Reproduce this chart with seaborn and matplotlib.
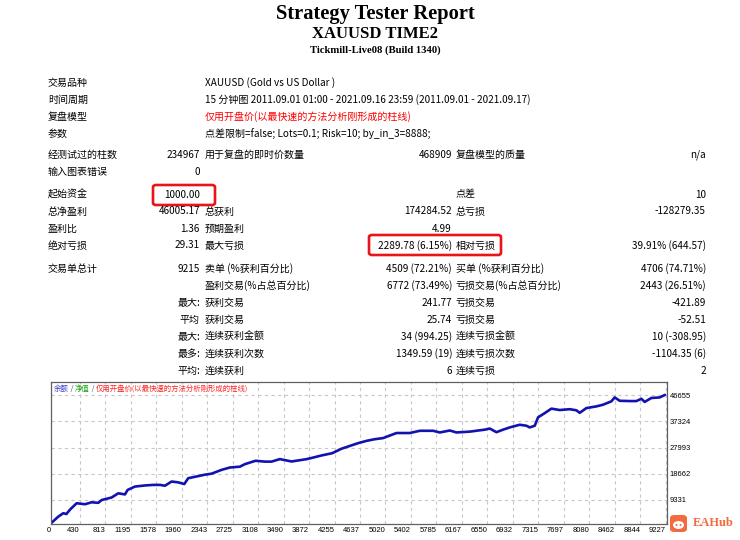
import numpy as np
import pandas as pd
import matplotlib
matplotlib.use("Agg")
import matplotlib.pyplot as plt
import matplotlib.patches as mpatches
import matplotlib.transforms as mtransforms
import seaborn as sns

# header text
title = "Strategy Tester Report"
subtitle = "XAUUSD TIME2"
server = "Tickmill-Live08 (Build 1340)"

# settings block (label, value)
settings_labels = ["交易品种", "时间周期", "复盘模型", "参数"]
settings_values = [
    "XAUUSD (Gold vs US Dollar )",
    "15 分钟图 2011.09.01 01:00 - 2021.09.16 23:59 (2011.09.01 - 2021.09.17)",
    "仅用开盘价(以最快速的方法分析刚形成的柱线)",
    "点差限制=false; Lots=0.1; Risk=10; by_in_3=8888;",
]

# six-column blocks: label, value, label, value, label, value
bars_block = [
    ["经测试过的柱数", "234967", "用于复盘的即时价数量", "468909", "复盘模型的质量", "n/a"],
    ["输入图表错误", "0", "", "", "", ""],
]
money_block = [
    ["起始资金", "1000.00", "", "", "点差", "10"],
    ["总净盈利", "46005.17", "总获利", "174284.52", "总亏损", "-128279.35"],
    ["盈利比", "1.36", "预期盈利", "4.99", "", ""],
    ["绝对亏损", "29.31", "最大亏损", "2289.78 (6.15%)", "相对亏损", "39.91% (644.57)"],
]
trades_block = [
    ["交易单总计", "9215", "卖单 (%获利百分比)", "4509 (72.21%)", "买单 (%获利百分比)", "4706 (74.71%)"],
    ["", "", "盈利交易(%占总百分比)", "6772 (73.49%)", "亏损交易(%占总百分比)", "2443 (26.51%)"],
    ["", "最大:", "获利交易", "241.77", "亏损交易", "-421.89"],
    ["", "平均", "获利交易", "25.74", "亏损交易", "-52.51"],
    ["", "最大:", "连续获利金额", "34 (994.25)", "连续亏损金额", "10 (-308.95)"],
    ["", "最多:", "连续获利次数", "1349.59 (19)", "连续亏损次数", "-1104.35 (6)"],
    ["", "平均:", "连续获利", "6", "连续亏损", "2"],
]

# balance curve (trade number, balance)
trade_no = [0, 110, 185, 230, 290, 385, 510, 610, 710, 760, 910, 1010, 1110, 1150,
            1260, 1410, 1535, 1635, 1710, 1810, 1910, 2000, 2060, 2185, 2300, 2410,
            2560, 2685, 2835, 2910, 3070, 3210, 3310, 3435, 3610, 3840, 3910, 4060,
            4220, 4360, 4510, 4610, 4735, 4860, 4985, 5185, 5385, 5535, 5735, 5835,
            5985, 6085, 6285, 6510, 6585, 6685, 6785, 6885, 7035, 7135, 7185, 7260,
            7310, 7410, 7510, 7635, 7785, 7885, 7935, 8035, 8185, 8285, 8410, 8460,
            8535, 8685, 8785, 8860, 8910, 9010, 9135, 9215]
balance = [1000, 3400, 4600, 4300, 6000, 8150, 7800, 8500, 8300, 9300, 10200, 11700,
           11300, 12900, 14100, 14500, 14700, 14700, 14400, 15900, 15600, 15000, 17100,
           17700, 18300, 18700, 20060, 20900, 21200, 22100, 23300, 23000, 23000, 23900,
           23050, 23900, 24300, 25200, 26000, 27600, 28800, 29600, 30400, 31000, 31400,
           33200, 33200, 34000, 34000, 33400, 34100, 33400, 33700, 34400, 34800, 33500,
           34400, 35200, 36150, 35800, 35200, 35800, 38800, 40300, 41900, 41400, 41700,
           41300, 40400, 42100, 42700, 43300, 44500, 45900, 44700, 44600, 44600, 45400,
           44300, 45700, 45900, 46800]

x_ticks = [0, 430, 813, 1195, 1578, 1960, 2343, 2725, 3108, 3490, 3872, 4255, 4637,
           5020, 5402, 5785, 6167, 6550, 6932, 7315, 7697, 8080, 8462, 8844, 9227]
y_ticks = [9331, 18662, 27993, 37324, 46655]
legend_parts = ["余额", " / ", "净值", " / ", "仅用开盘价(以最快速的方法分析刚形成的柱线)"]
legend_colors = ["#3c3cc8", "#555555", "#10a010", "#555555", "#ff2020"]

sns.set_theme(style="white")
plt.rcParams["font.family"] = ["Noto Sans CJK SC", "DejaVu Sans"]

W, H = 740, 540
fig = plt.figure(figsize=(W / 100, H / 100), dpi=100)
fig.patch.set_facecolor("white")


def put(x, y, s, ha="left", **kw):
    kw.setdefault("fontsize", 7.2)
    kw.setdefault("color", "black")
    fig.text(x / W, 1 - y / H, s, ha=ha, va="center", **kw)


# header
serif = ["Liberation Serif", "DejaVu Serif"]
put(375, 14, title, ha="center", fontsize=14.8, fontweight="bold", family=serif)
put(375, 34, subtitle, ha="center", fontsize=12, fontweight="bold", family=serif)
put(375, 50.5, server, ha="center", fontsize=7.7, fontweight="bold", family=serif)

# table
col_left = [48, 205, 456]
col_right = [200, 452, 706]
row_h = 17

for i, (lab, val) in enumerate(zip(settings_labels, settings_values)):
    y = 82.7 + i * row_h
    put(col_left[0], y, lab)
    put(col_left[1], y, val, color="#ff0000" if i == 2 else "black")


def draw_block(rows, y0):
    for i, row in enumerate(rows):
        y = y0 + i * row_h
        for c in range(3):
            lab, val = row[2 * c], row[2 * c + 1]
            if lab:
                put(col_left[c], y, lab)
            if val:
                put(col_right[c], y, val, ha="right")


draw_block(bars_block, 155)
draw_block(money_block, 194.5)
draw_block(trades_block, 269)

# red highlight boxes
for (x0, y0, x1, y1) in [(153, 185, 215, 205), (369, 235, 501, 255)]:
    fig.add_artist(mpatches.FancyBboxPatch(
        (x0 / W, 1 - y1 / H), (x1 - x0) / W, (y1 - y0) / H,
        boxstyle="round,pad=0,rounding_size=0.004", transform=fig.transFigure,
        fill=False, ec="#e8141b", lw=1.9))

# balance chart
ax = fig.add_axes([51 / W, 1 - 524 / H, (667 - 51) / W, (524 - 382) / H])
df = pd.DataFrame({"trade": trade_no, "balance": balance})
sns.lineplot(data=df, x="trade", y="balance", ax=ax, color="#1212b0", linewidth=1.9)
ax.set_xlim(0, 9245)
ax.set_ylim(750, 51400)
ax.set_xlabel("")
ax.set_ylabel("")
ax.yaxis.tick_right()
ax.set_yticks(y_ticks)
ax.set_yticklabels([str(v) for v in y_ticks], family="Liberation Sans", fontsize=5.5)
ax.set_xticks(x_ticks)
ax.set_xticklabels([str(v) for v in x_ticks], family="Liberation Sans", fontsize=5.5)
offset = mtransforms.ScaledTranslation(2 / 100, 0, fig.dpi_scale_trans)
for lbl in ax.get_xticklabels():
    lbl.set_horizontalalignment("right")
    lbl.set_transform(lbl.get_transform() + offset)
ax.tick_params(axis="both", length=0, pad=2, colors="black")
ax.grid(True, color="#c8c8c8", linestyle=(0, (3, 3)), linewidth=0.8)
for sp in ax.spines.values():
    sp.set_color("#606060")
    sp.set_linewidth(0.9)

# legend-like caption inside chart
xpos = 54
renderer = fig.canvas.get_renderer()
for part, col in zip(legend_parts, legend_colors):
    t = fig.text(xpos / W, 1 - 389 / H, part, fontsize=5.3, color=col, va="center")
    xpos += t.get_window_extent(renderer).width

# watermark logo
fig.add_artist(mpatches.FancyBboxPatch(
    (670 / W, 1 - 532 / H), 17 / W, 17 / H,
    boxstyle="round,pad=0,rounding_size=0.006", transform=fig.transFigure,
    fc="#f26a3d", ec="none"))
fig.add_artist(mpatches.Ellipse((678.5 / W, 1 - 525 / H), 11 / W, 8 / H,
                                transform=fig.transFigure, fc="white", ec="none"))
for dx in (-2, 2):
    fig.add_artist(mpatches.Ellipse(((678.5 + dx) / W, 1 - 525 / H), 2 / W, 2 / H,
                                    transform=fig.transFigure, fc="#f26a3d", ec="none"))
put(693, 523, "EAHub", fontsize=9, fontweight="bold", color="#f26a3d", family=serif)

fig.savefig("out.png", dpi=100, facecolor="white")
